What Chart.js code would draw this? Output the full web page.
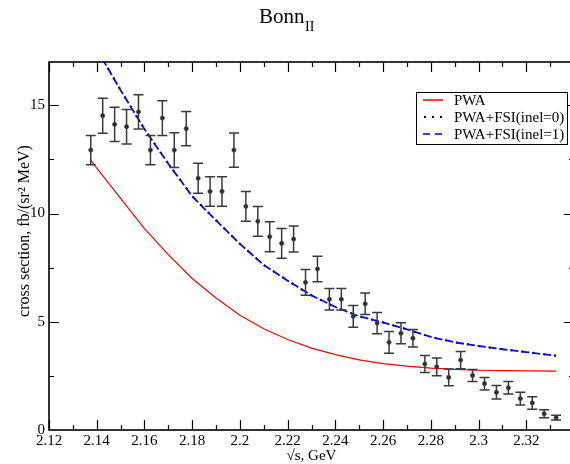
<!DOCTYPE html>
<html>
<head>
<meta charset="utf-8">
<script src="https://cdn.jsdelivr.net/npm/chart.js@4/dist/chart.umd.min.js"></script>
<style>
  html, body { margin: 0; padding: 0; background: #fff; overflow: hidden; }
  #wrap { width: 580px; height: 464px; position: relative; }
</style>
</head>
<body>
<div id="wrap"><canvas id="c"></canvas></div>
<script>
// ---- data ----
const titleMain = "Bonn";
const titleSub = "II";
const xAxisTitle = "\u221As, GeV";
const yAxisTitle = "cross section, fb/(sr\u00B2 MeV)";
const seriesLabels = ["PWA", "PWA+FSI(inel=0)", "PWA+FSI(inel=1)"];

const pointsX = [2.1375, 2.1425, 2.1475, 2.1525, 2.1575, 2.1625, 2.1675, 2.1725, 2.1775, 2.1825,
                 2.1875, 2.1925, 2.1975, 2.2025, 2.2075, 2.2125, 2.2175, 2.2225, 2.2275, 2.2325,
                 2.2375, 2.2425, 2.2475, 2.2525, 2.2575, 2.2625, 2.2675, 2.2725, 2.2775, 2.2825,
                 2.2875, 2.2925, 2.2975, 2.3025, 2.3075, 2.3125, 2.3175, 2.3225, 2.3275, 2.3325];
const pointsY = [12.93, 14.52, 14.12, 14.01, 14.70, 12.93, 14.41, 12.93, 13.92, 11.63,
                 11.02, 11.02, 12.93, 10.33, 9.64, 8.93, 8.62, 8.82, 6.82, 7.44,
                 6.04, 6.04, 5.25, 5.83, 4.94, 4.05, 4.47, 4.24, 3.05, 2.92,
                 2.43, 3.23, 2.52, 2.14, 1.74, 1.95, 1.45, 1.25, 0.75, 0.57];
const pointsErr = [0.68, 0.81, 0.79, 0.80, 0.79, 0.68, 0.80, 0.80, 0.79, 0.69,
                   0.68, 0.68, 0.79, 0.69, 0.69, 0.69, 0.69, 0.60, 0.59, 0.59,
                   0.50, 0.50, 0.50, 0.50, 0.49, 0.50, 0.49, 0.40, 0.39, 0.41,
                   0.39, 0.40, 0.28, 0.29, 0.31, 0.29, 0.29, 0.29, 0.18, 0.11];

const pwaX = [2.1375, 2.14, 2.15, 2.16, 2.17, 2.18, 2.19, 2.2, 2.21, 2.22, 2.23,
              2.24, 2.25, 2.26, 2.27, 2.28, 2.29, 2.3, 2.31, 2.32, 2.3325];
const pwaY = [12.47, 12.1, 10.7, 9.3, 8.1, 7.0, 6.1, 5.3, 4.68, 4.18, 3.78,
              3.48, 3.24, 3.07, 2.95, 2.86, 2.8, 2.76, 2.74, 2.73, 2.72];

const fsiX = [2.14, 2.15, 2.16, 2.17, 2.18, 2.19, 2.2, 2.21, 2.22, 2.23,
              2.24, 2.25, 2.26, 2.27, 2.28, 2.29, 2.3, 2.31, 2.32, 2.3325];
const fsi0Y = [17.6, 15.7, 13.9, 12.3, 10.8, 9.68, 8.6, 7.62, 6.9, 6.22,
               5.68, 5.25, 4.97, 4.65, 4.3, 4.05, 3.88, 3.73, 3.6, 3.43];
const fsi1Y = [17.6, 15.7, 13.9, 12.3, 10.8, 9.68, 8.6, 7.62, 6.9, 6.22,
               5.68, 5.25, 4.97, 4.65, 4.3, 4.05, 3.88, 3.73, 3.6, 3.43];

const xMin = 2.12, xMax = 2.34, xStep = 0.01;
const yMin = 0, yMax = 17, yStep = 2.5;

// ---- chart ----
const SERIF = "'Liberation Serif', 'Times New Roman', serif";
const pairs = (xs, ys) => xs.map((x, i) => ({ x: x, y: ys[i] }));

const framePlugin = {
  id: 'frame',
  beforeDatasetsDraw(chart) {
    const { ctx, chartArea: a, scales } = chart;
    ctx.save();
    ctx.strokeStyle = '#000';
    ctx.lineWidth = 1.6;
    ctx.strokeRect(a.left, a.top, a.right - a.left, a.bottom - a.top);
    ctx.lineWidth = 1.2;
    ctx.beginPath();
    scales.x.ticks.forEach(t => {
      const v = t.value;
      const k = Math.round(v * 100);
      if (Math.abs(v * 100 - k) > 1e-6) return;
      const len = (k % 2 === 0) ? 10 : 5;
      const px = Math.round(scales.x.getPixelForValue(v)) + 0.5;
      ctx.moveTo(px, a.bottom); ctx.lineTo(px, a.bottom - len);
      ctx.moveTo(px, a.top); ctx.lineTo(px, a.top + len);
    });
    scales.y.ticks.forEach(t => {
      const v = t.value;
      if (Math.abs(v / 2.5 - Math.round(v / 2.5)) > 1e-6) return;
      if (v <= yMin || v >= yMax) return;
      const len = (Math.abs(v % 5) < 1e-6) ? 10 : 5;
      const py = Math.round(scales.y.getPixelForValue(v)) + 0.5;
      ctx.moveTo(a.left, py); ctx.lineTo(a.left + len, py);
      ctx.moveTo(a.right, py); ctx.lineTo(a.right - len, py);
    });
    ctx.stroke();
    ctx.restore();
  },
  afterDatasetsDraw(chart) {
    const { ctx, scales } = chart;
    ctx.save();
    ctx.strokeStyle = '#3a3a3a';
    ctx.lineWidth = 1.5;
    ctx.beginPath();
    pointsX.forEach((x, i) => {
      const px = scales.x.getPixelForValue(x);
      const y1 = scales.y.getPixelForValue(pointsY[i] + pointsErr[i]);
      const y2 = scales.y.getPixelForValue(pointsY[i] - pointsErr[i]);
      ctx.moveTo(px, y1); ctx.lineTo(px, y2);
      ctx.moveTo(px - 5, y1); ctx.lineTo(px + 5, y1);
      ctx.moveTo(px - 5, y2); ctx.lineTo(px + 5, y2);
    });
    ctx.stroke();
    ctx.restore();
  },
  afterDraw(chart) {
    const { ctx, chartArea: a } = chart;
    ctx.save();
    // title
    ctx.fillStyle = '#000';
    ctx.textBaseline = 'alphabetic';
    ctx.textAlign = 'left';
    ctx.font = '21px ' + SERIF;
    ctx.fillText(titleMain, 259, 23);
    const w = ctx.measureText(titleMain).width;
    ctx.font = '14px ' + SERIF;
    ctx.fillText(titleSub, 259 + w + 0.5, 31);
    // y axis title
    ctx.save();
    ctx.translate(25, 231);
    ctx.rotate(-Math.PI / 2);
    ctx.font = '16px ' + SERIF;
    ctx.textAlign = 'center';
    ctx.textBaseline = 'middle';
    ctx.fillText(yAxisTitle, 0, 0);
    ctx.restore();
    // legend
    const bx = 416, by = 92, bw = 151, bh = 52;
    ctx.fillStyle = '#fff';
    ctx.fillRect(bx, by, bw, bh);
    ctx.strokeStyle = '#000';
    ctx.lineWidth = 1;
    ctx.strokeRect(bx + 0.5, by + 0.5, bw, bh);
    const rows = [100, 117, 134];
    chart.data.datasets.forEach(ds => {
      if (ds.legendRow === undefined) return;
      const y = rows[ds.legendRow];
      ctx.strokeStyle = ds.borderColor;
      ctx.fillStyle = ds.borderColor;
      if (ds.legendRow === 1) {
        [425, 433, 441].forEach(dx => { ctx.fillRect(dx - 1, y - 1, 2, 2); });
      } else {
        ctx.lineWidth = 1.5;
        ctx.setLineDash(ds.legendRow === 2 ? [7, 5] : []);
        ctx.beginPath();
        ctx.moveTo(423, y); ctx.lineTo(443, y);
        ctx.stroke();
        ctx.setLineDash([]);
      }
      ctx.fillStyle = '#000';
      ctx.font = '15px ' + SERIF;
      ctx.textAlign = 'left';
      ctx.textBaseline = 'middle';
      ctx.fillText(ds.label, 454, y + 1);
    });
    ctx.restore();
  }
};

new Chart(document.getElementById('c'), {
  type: 'scatter',
  data: {
    datasets: [
      {
        label: seriesLabels[1], legendRow: 1,
        data: pairs(fsiX, fsi0Y), showLine: true, borderColor: '#000',
        borderWidth: 2, borderDash: [2, 9], pointRadius: 0, order: 4
      },
      {
        label: seriesLabels[2], legendRow: 2,
        data: pairs(fsiX, fsi1Y), showLine: true, borderColor: '#0000ff',
        borderWidth: 1.8, borderDash: [8, 3], pointRadius: 0, order: 3
      },
      {
        label: seriesLabels[0], legendRow: 0,
        data: pairs(pwaX, pwaY), showLine: true, borderColor: '#ff0000',
        borderWidth: 1.2, pointRadius: 0, order: 2
      },
      {
        label: 'data',
        data: pairs(pointsX, pointsY), showLine: false,
        pointRadius: 2.1, pointBackgroundColor: '#111', pointBorderColor: '#555',
        pointBorderWidth: 0.8, order: 1
      }
    ]
  },
  options: {
    responsive: true,
    maintainAspectRatio: false,
    animation: false,
    layout: { padding: { left: 0, top: 62, right: 6, bottom: 0 } },
    plugins: { legend: { display: false }, tooltip: { enabled: false }, title: { display: false } },
    scales: {
      x: {
        type: 'linear', min: xMin, max: xMax,
        grid: { display: false, drawTicks: false },
        border: { display: false },
        ticks: {
          stepSize: xStep, autoSkip: false, maxRotation: 0, padding: 2,
          color: '#000', font: { family: SERIF, size: 15 },
          callback: (v) => {
            const k = Math.round(v * 100);
            if (k % 2 !== 0 || k >= 234) return '';
            return String(Number((k / 100).toFixed(2)));
          }
        },
        title: {
          display: true, text: xAxisTitle, color: '#000',
          font: { family: SERIF, size: 15, lineHeight: 1 }, padding: { top: 0, bottom: 0 }
        },
        afterFit: (s) => { s.height = 34; s.paddingLeft = 0; s.paddingRight = 0; }
      },
      y: {
        type: 'linear', min: yMin, max: yMax,
        grid: { display: false, drawTicks: false },
        border: { display: false },
        ticks: {
          stepSize: yStep, autoSkip: false, padding: 4,
          color: '#000', font: { family: SERIF, size: 15 },
          callback: (v) => (Math.abs(v % 5) < 1e-6 && v <= 15) ? String(v) : ''
        },
        title: { display: false, text: yAxisTitle },
        afterFit: (s) => { s.width = 49; s.paddingTop = 0; s.paddingBottom = 0; }
      }
    }
  },
  plugins: [framePlugin]
});
</script>
</body>
</html>
